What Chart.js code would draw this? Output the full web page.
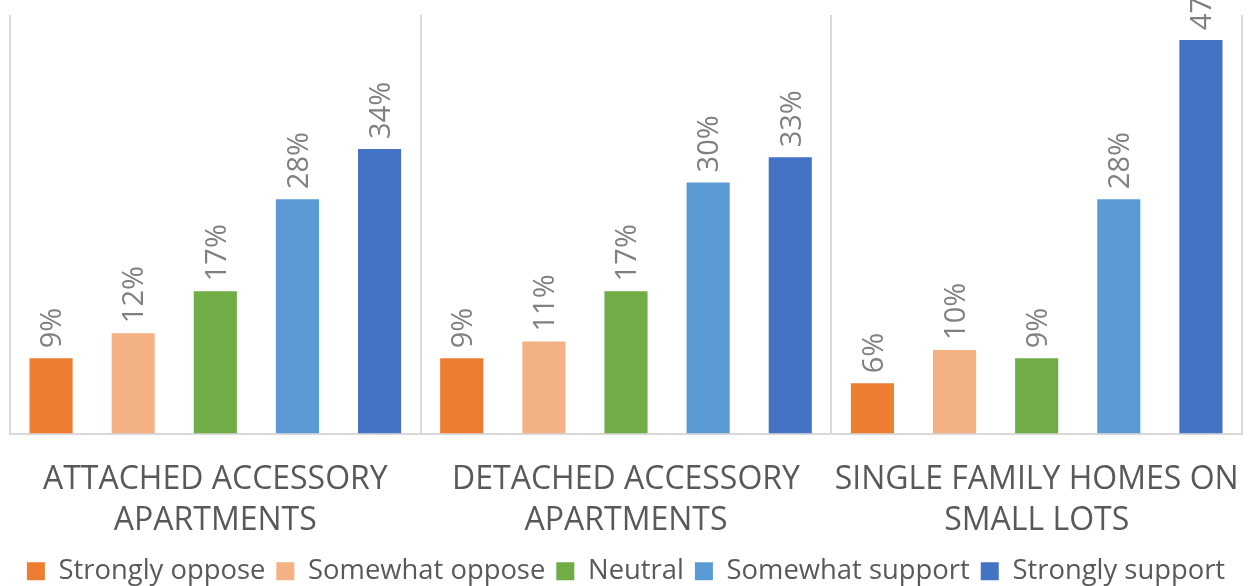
<!DOCTYPE html>
<html>
<head>
<meta charset="utf-8">
<title>Housing type support</title>
<script src="https://cdn.jsdelivr.net/npm/chart.js@4/dist/chart.umd.min.js"></script>
<style>
  html, body { margin: 0; padding: 0; background: #fff; }
  #chart { display: block; }
</style>
</head>
<body>
<canvas id="chart" width="1249" height="586"></canvas>
<script>
const categories = [
    ['ATTACHED ACCESSORY', 'APARTMENTS'],
    ['DETACHED ACCESSORY', 'APARTMENTS'],
    ['SINGLE FAMILY HOMES ON', 'SMALL LOTS']
];
const seriesNames = ['Strongly oppose', 'Somewhat oppose', 'Neutral', 'Somewhat support', 'Strongly support'];
const stronglyOppose = [9, 9, 6];
const somewhatOppose = [12, 11, 10];
const neutral = [17, 17, 9];
const somewhatSupport = [28, 30, 28];
const stronglySupport = [34, 33, 47];
const seriesColors = ['#ED7D31', '#F4B183', '#70AD47', '#5B9BD5', '#4472C4'];

const seriesValues = [stronglyOppose, somewhatOppose, neutral, somewhatSupport, stronglySupport];

// percent labels standing vertically on top of each bar
const barLabels = {
    id: 'barLabels',
    afterDatasetsDraw(chart) {
        const ctx = chart.ctx;
        ctx.save();
        ctx.font = '29px "Open Sans"';
        ctx.fillStyle = '#808080';
        ctx.textAlign = 'left';
        ctx.textBaseline = 'middle';
        chart.data.datasets.forEach((ds, i) => {
            chart.getDatasetMeta(i).data.forEach((bar, j) => {
                ctx.save();
                ctx.translate(bar.x + 2, bar.y - 10);
                ctx.rotate(-Math.PI / 2);
                ctx.fillText(ds.data[j] + '%', 0, 0);
                ctx.restore();
            });
        });
        ctx.restore();
    }
};

new Chart(document.getElementById('chart'), {
    type: 'bar',
    data: {
        labels: categories,
        datasets: seriesNames.map((name, i) => ({
            label: name,
            data: seriesValues[i],
            backgroundColor: seriesColors[i],
            categoryPercentage: 1.0,
            barPercentage: 0.525
        }))
    },
    options: {
        responsive: false,
        animation: false,
        layout: { autoPadding: false, padding: { left: 10, right: 7, top: 15, bottom: -9 } },
        scales: {
            x: {
                grid: { color: '#D9D9D9', lineWidth: 2, drawTicks: false },
                border: { color: '#D9D9D9', width: 2 },
                ticks: {
                    color: '#595959',
                    font: { family: '"Open Sans"', size: 32, lineHeight: 1.28 },
                    padding: 26
                },
                afterFit(scale) {
                    // fixed band for the two-line category names, no side padding
                    scale.height = 113;
                    scale.paddingLeft = 0;
                    scale.paddingRight = 0;
                }
            },
            y: {
                display: false,
                min: 0,
                max: 50
            }
        },
        plugins: {
            legend: {
                position: 'bottom',
                labels: {
                    color: '#595959',
                    font: { family: '"Open Sans"', size: 27.4 },
                    boxWidth: 18,
                    boxHeight: 18,
                    padding: 11
                }
            },
            tooltip: { enabled: false }
        }
    },
    plugins: [barLabels]
});
</script>
</body>
</html>
